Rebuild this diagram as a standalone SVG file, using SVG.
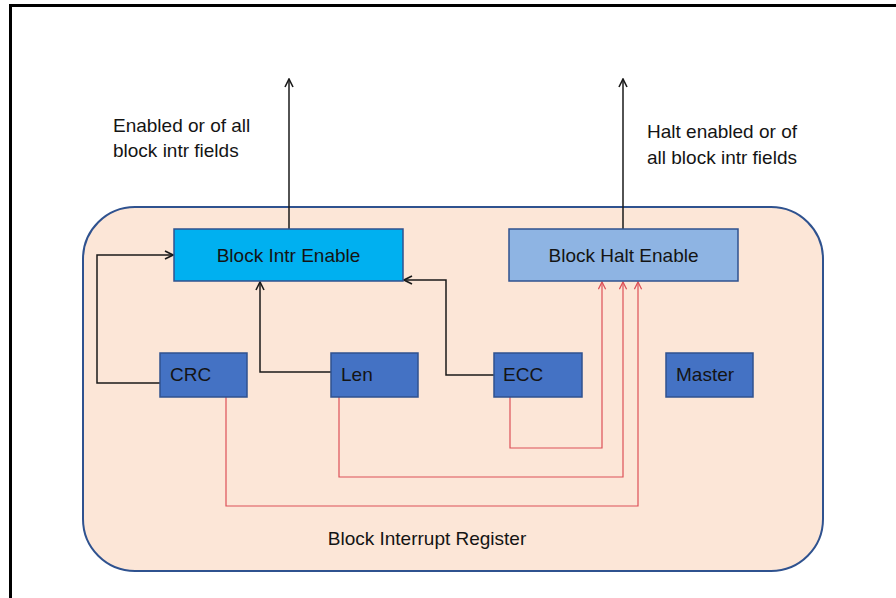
<svg xmlns="http://www.w3.org/2000/svg" width="896" height="598" viewBox="0 0 896 598">
<defs>
<style>
text{font-family:"Liberation Sans",Arial,sans-serif;fill:#141414}
.lbl{font-size:19px}
.box{stroke:#2F528F;stroke-width:1.5}
.blk{fill:none;stroke:#1a1a1a;stroke-width:1.5}
.red{fill:none;stroke:#DC5058;stroke-width:1.2}
</style>
<marker id="ab" viewBox="0 0 10 10" refX="9" refY="5" markerWidth="10" markerHeight="10" markerUnits="userSpaceOnUse" orient="auto">
<path d="M1,1 L9,5 L1,9" fill="none" stroke="#1a1a1a" stroke-width="1.6"/>
</marker>
<marker id="ar" viewBox="0 0 10 10" refX="9" refY="5" markerWidth="9" markerHeight="9" markerUnits="userSpaceOnUse" orient="auto">
<path d="M1,1 L9,5 L1,9" fill="none" stroke="#DC5058" stroke-width="1.4"/>
</marker>
</defs>
<rect width="896" height="598" fill="#ffffff"/>
<line x1="10.5" y1="5" x2="10.5" y2="598" stroke="#000" stroke-width="3"/>
<line x1="9" y1="5.5" x2="896" y2="5.5" stroke="#000" stroke-width="3"/>

<g id="register">
<rect x="83" y="207" width="740" height="364" rx="52" ry="52" fill="#FCE6D7" stroke="#2F528F" stroke-width="2"/>
<text class="lbl" x="427" y="545" text-anchor="middle">Block Interrupt Register</text>
</g>

<g id="label-intr">
<text class="lbl" x="113" y="132">Enabled or of all</text>
<text class="lbl" x="113" y="157">block intr fields</text>
</g>
<g id="label-halt">
<text class="lbl" x="647" y="138">Halt enabled or of</text>
<text class="lbl" x="647" y="164">all block intr fields</text>
</g>

<g id="connectors">
<path class="blk" d="M289,229 V79" marker-end="url(#ab)"/>
<path class="blk" d="M623,229 V79" marker-end="url(#ab)"/>
<path class="blk" d="M160,383 H97 V255 H173" marker-end="url(#ab)"/>
<path class="blk" d="M331,372 H260 V282" marker-end="url(#ab)"/>
<path class="blk" d="M494,375 H446 V280 H404" marker-end="url(#ab)"/>
<path class="red" d="M510,397 V448 H602 V282" marker-end="url(#ar)"/>
<path class="red" d="M339,397 V477 H623 V282" marker-end="url(#ar)"/>
<path class="red" d="M226,397 V506 H638 V282" marker-end="url(#ar)"/>
</g>

<g id="block-intr-enable">
<rect class="box" x="174" y="229" width="229" height="52" fill="#00B0F0"/>
<text class="lbl" x="288.5" y="262" text-anchor="middle">Block Intr Enable</text>
</g>
<g id="block-halt-enable">
<rect class="box" x="509" y="229" width="229" height="52" fill="#8EB4E3"/>
<text class="lbl" x="623.5" y="262" text-anchor="middle">Block Halt Enable</text>
</g>
<g id="crc">
<rect class="box" x="160" y="353" width="87" height="44" fill="#4472C4"/>
<text class="lbl" x="170" y="381">CRC</text>
</g>
<g id="len">
<rect class="box" x="331" y="353" width="87" height="44" fill="#4472C4"/>
<text class="lbl" x="341" y="381">Len</text>
</g>
<g id="ecc">
<rect class="box" x="494" y="353" width="88" height="44" fill="#4472C4"/>
<text class="lbl" x="503" y="381">ECC</text>
</g>
<g id="master">
<rect class="box" x="666" y="353" width="87" height="44" fill="#4472C4"/>
<text class="lbl" x="676" y="381">Master</text>
</g>
</svg>
